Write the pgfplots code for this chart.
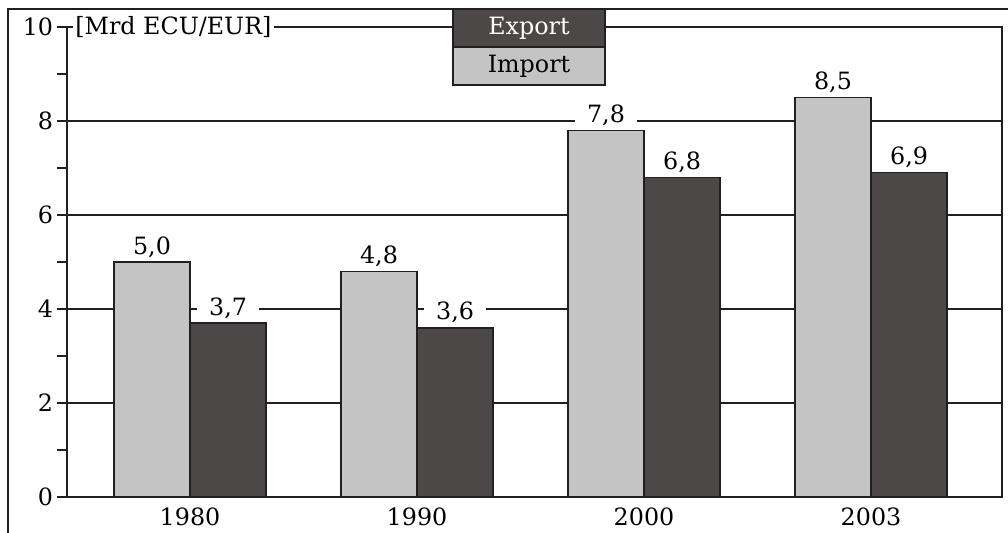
\documentclass[border=0pt]{standalone}
\usepackage{fontspec}
\setmainfont{DejaVu Serif}
\usepackage{pgfplots}
\pgfplotsset{compat=1.18}
\definecolor{exportc}{RGB}{76,72,72}
\definecolor{importc}{RGB}{196,196,196}
\definecolor{linec}{RGB}{35,31,32}
\newcommand{\chf}{\fontsize{11.9}{14}\selectfont}
\begin{document}
\chf
\begin{tikzpicture}
\begin{axis}[
  at={(0pt,0pt)}, anchor=south west,
  scale only axis, width=467.5pt, height=235pt,
  xmin=-0.542, xmax=3.577, ymin=0, ymax=10,
  ybar=0pt, bar width=0.335,
  xtick={0,1,2,3}, xticklabels={1980,1990,2000,2003},
  ytick={0,2,4,6,8,10}, minor ytick={1,3,5,7,9},
  ymajorgrids, major grid style={linec, line width=0.75pt},
  axis line style={linec, line width=1pt},
  tick style={linec, line width=0.8pt},
  tick align=outside, ytick pos=left, xtick pos=bottom,
  major tick length=4.8pt, minor tick length=4.8pt,
  x tick style={draw=none},
  x tick label style={yshift=3.5pt},
  y tick label style={xshift=2pt},
  tick label style={font=\chf},
  /pgf/number format/assume math mode=true,
  nodes near coords={\pgfmathprintnumber[fixed,fixed zerofill,precision=1,use comma,assume math mode=true]{\pgfplotspointmeta}},
  every node near coord/.append style={fill=white, text=black, inner xsep=6pt, inner ysep=1pt, text depth=0pt, anchor=south, yshift=2.5pt, font=\chf},
  clip=false,
]
\addplot[fill=importc, draw=linec, line width=0.8pt]
  coordinates {(0,5.0) (1,4.8) (2,7.8) (3,8.5)};
\addplot[fill=exportc, draw=linec, line width=0.8pt]
  coordinates {(0,3.7) (1,3.6) (2,6.8) (3,6.9)};
\end{axis}
\draw[linec, line width=1pt] (-29.5pt,-40pt) -- (-29.5pt,244pt) -- (490pt,244pt);
\node[fill=white, anchor=west, inner sep=1pt, font=\chf] at (3pt,235pt) {[Mrd ECU/EUR]};
\draw[linec, line width=0.8pt, fill=exportc] (193pt,225pt) rectangle (269pt,244pt);
\node[text=white, font=\chf] at (231pt,234.5pt) {Export};
\draw[linec, line width=0.8pt, fill=importc] (193pt,206pt) rectangle (269pt,225pt);
\node[text=black, font=\chf] at (231pt,215.5pt) {Import};
\pgfresetboundingbox
\path[use as bounding box] (-33.5pt,-18pt) rectangle (470.5pt,248.5pt);
\end{tikzpicture}
\end{document}
